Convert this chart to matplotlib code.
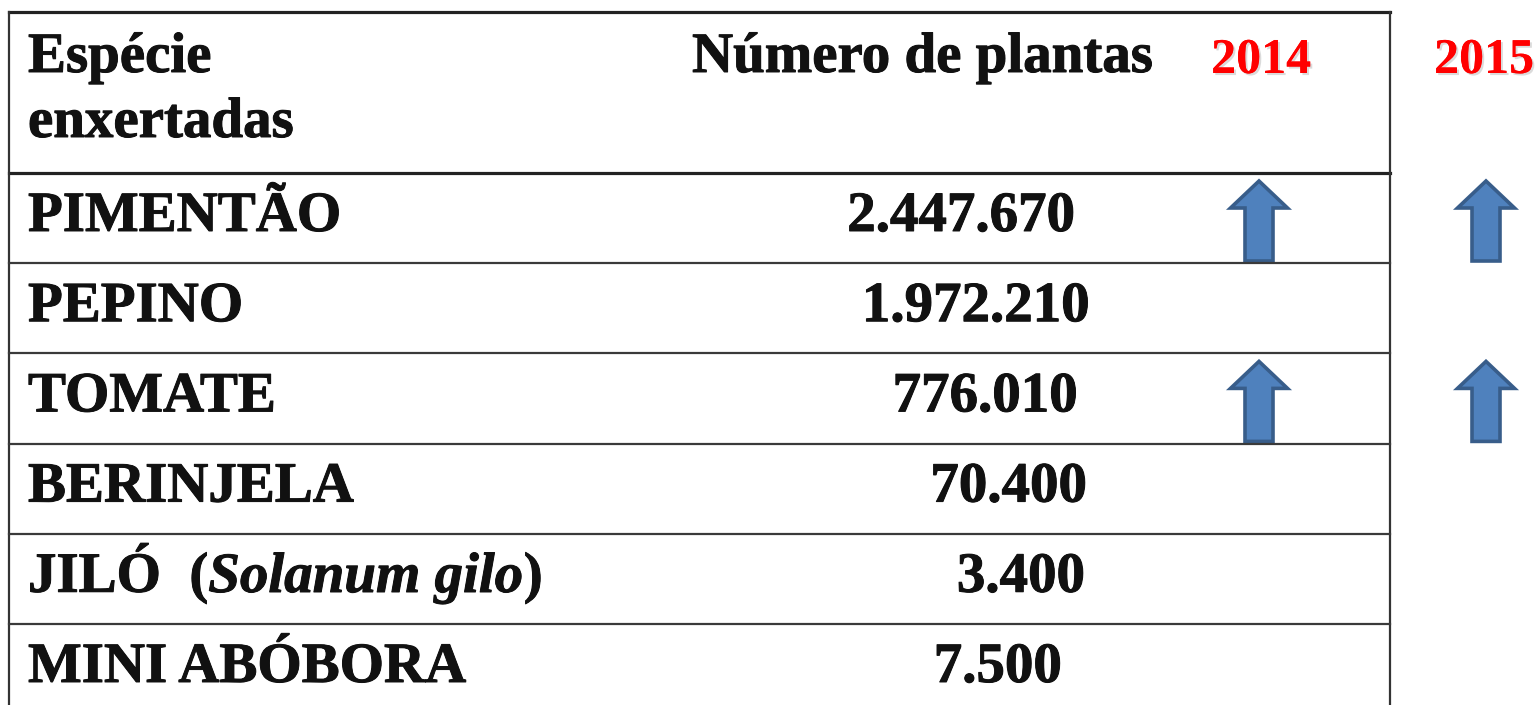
import matplotlib
matplotlib.use("Agg")
import matplotlib.pyplot as plt
from matplotlib.patches import FancyArrow
import matplotlib.patheffects as pe

# data
especies = ["PIMENTÃO", "PEPINO", "TOMATE", "BERINJELA", "JILÓ", "MINI ABÓBORA"]
nome_cientifico = ["", "", "", "", "Solanum gilo", ""]
num_plantas = [2447670, 1972210, 776010, 70400, 3400, 7500]
anos = ["2014", "2015"]
sobe_2014 = [True, False, True, False, False, False]
sobe_2015 = [True, False, True, False, False, False]

# layout (pixels, figure is 1537x705)
W, H = 1537, 705
x_left, x_right = 9, 1390
y_top, y_head = 12, 173
row_h = 90.2
num_right = [1075, 1090, 1078, 1087, 1085, 1062]
ano_x = [1261, 1484]
seta_x = [1259, 1486]
serif = "Liberation Serif"
fs = 41
grosso = [pe.withStroke(linewidth=0.7, foreground="#111111")]

fig = plt.figure(figsize=(W / 100, H / 100), dpi=100)
ax = fig.add_axes([0, 0, 1, 1])
ax.set_xlim(0, W)
ax.set_ylim(H, 0)
ax.axis("off")

# borders and row lines
ax.plot([x_left, x_right], [y_top, y_top], color="#222222", lw=2.3)
ax.plot([x_left, x_right], [y_head, y_head], color="#222222", lw=2.3)
ax.plot([x_left, x_left], [y_top, H], color="#333333", lw=1.6)
ax.plot([x_right, x_right], [y_top, H], color="#333333", lw=1.6)
for i in range(1, len(especies)):
    y = y_head + i * row_h
    ax.plot([x_left, x_right], [y, y], color="#3a3a3a", lw=1.6)

def txt(x, y, s, **kw):
    return ax.text(x, y, s, fontsize=fs, family=serif, weight="bold", color="#111111",
                   va="baseline", path_effects=grosso, **kw)

# header
txt(28, 72, "Espécie")
txt(28, 137, "enxertadas")
txt(692, 72, "Número de plantas")

sombra = [pe.withSimplePatchShadow(offset=(1.5, -1.5), shadow_rgbFace="#999999", alpha=0.35), pe.Normal()]
for xa, ano in zip(ano_x, anos):
    ax.text(xa, 73, ano, fontsize=36, family=serif, weight="bold", color="#ff0000",
            ha="center", va="baseline", path_effects=sombra)

# rows
for i, (esp, sci, n) in enumerate(zip(especies, nome_cientifico, num_plantas)):
    top = y_head + i * row_h
    base = top + 58
    if sci:
        t1 = txt(28, base, esp + "  (")
        t2 = ax.annotate(sci, xy=(1, 0), xycoords=t1, va="bottom", fontsize=fs, color="#111111",
                         family=serif, weight="bold", style="italic", path_effects=grosso)
        ax.annotate(")", xy=(1, 0), xycoords=t2, va="bottom", fontsize=fs, color="#111111",
                    family=serif, weight="bold", path_effects=grosso)
    else:
        txt(28, base, esp)
    txt(num_right[i], base, f"{n:,}".replace(",", "."), ha="right")

    for flags, xs in ((sobe_2014, seta_x[0]), (sobe_2015, seta_x[1])):
        if flags[i]:
            y0 = top + 88
            y1 = top + 8
            ax.add_patch(FancyArrow(xs, y0, 0, y1 - y0, width=28, head_width=57,
                                    head_length=27, length_includes_head=True,
                                    fc="#4f81bd", ec="#385d8a", lw=2.6))

fig.savefig("out.png", dpi=100)
